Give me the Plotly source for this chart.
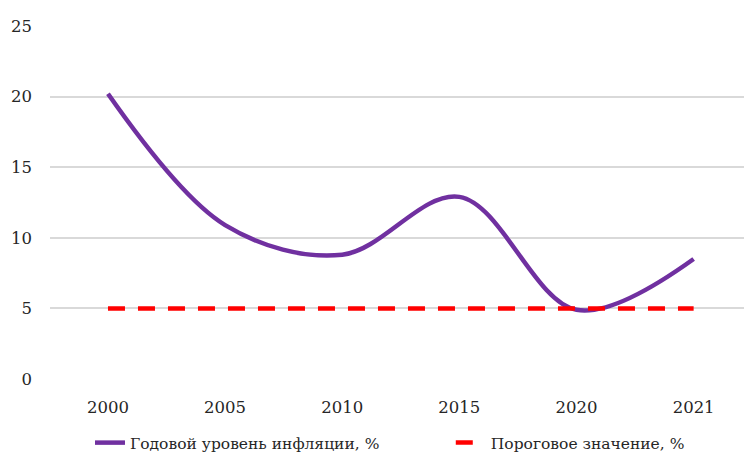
import plotly.graph_objects as go

years = ["2000", "2005", "2010", "2015", "2020", "2021"]
inflation = [20.2, 10.9, 8.8, 12.9, 4.9, 8.5]
threshold = [5, 5, 5, 5, 5, 5]
y_ticks = [0, 5, 10, 15, 20, 25]

FAMILY = "DejaVu Serif"
font = dict(family=FAMILY, size=16.5, color="#262626")
legend_font = dict(family=FAMILY, size=15.5, color="#262626")

fig = go.Figure()
fig.add_trace(go.Scatter(
    x=years, y=inflation, mode="lines",
    name="Годовой уровень инфляции, %",
    line=dict(color="#7030A0", width=4.5, shape="spline", smoothing=1.0),
    legend="legend",
))
fig.add_trace(go.Scatter(
    x=years, y=threshold, mode="lines",
    name="Пороговое значение, %",
    line=dict(color="#FF0000", width=4.5, dash="17px,13px"),
    legend="legend2",
))

fig.update_layout(
    width=744, height=453,
    margin=dict(l=50, r=0, t=26, b=74),
    paper_bgcolor="white", plot_bgcolor="white",
    font=font,
    showlegend=True,
    legend=dict(
        orientation="h", x=0.0576, xanchor="left",
        yref="container", y=0.022, yanchor="middle",
        font=legend_font, bgcolor="rgba(0,0,0,0)",
    ),
    legend2=dict(
        orientation="h", x=0.5775, xanchor="left",
        yref="container", y=0.022, yanchor="middle",
        font=legend_font, bgcolor="rgba(0,0,0,0)",
    ),
    xaxis=dict(
        type="category", range=[-0.495, 5.43],
        showgrid=False, zeroline=False, showline=False,
        ticks="", ticklabelstandoff=16,
        tickfont=font,
    ),
    yaxis=dict(
        range=[0, 25], tickvals=y_ticks,
        showgrid=True, gridcolor="#D9D9D9", gridwidth=1.5,
        zeroline=False, showline=False, ticks="",
        ticklabelstandoff=17,
        tickfont=font,
    ),
)

fig.write_html("out.html", config={"displayModeBar": False},
               post_script="document.body.style.margin='0';")
